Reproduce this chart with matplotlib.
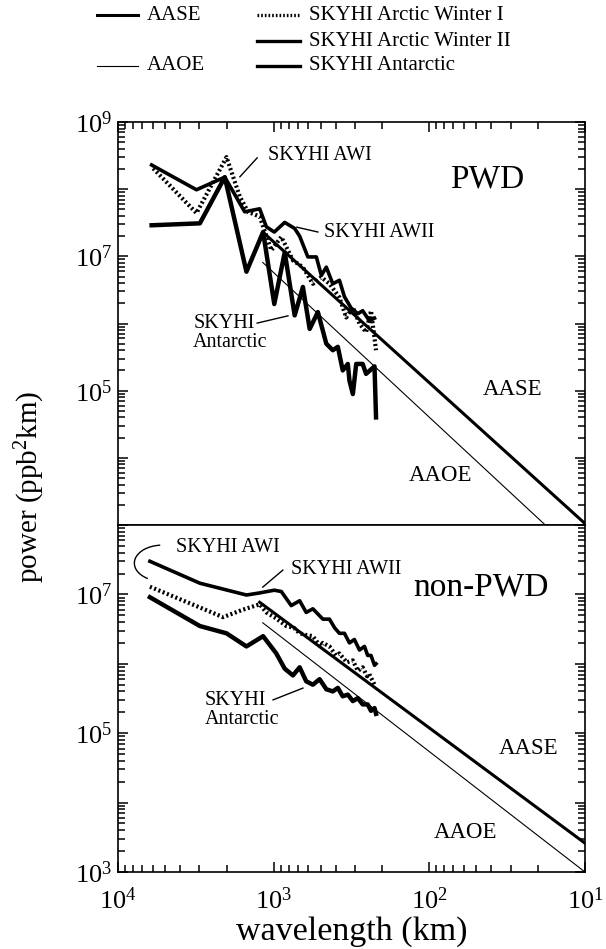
import numpy as np
import matplotlib
matplotlib.use('Agg')
import matplotlib.pyplot as plt
from matplotlib.lines import Line2D
from matplotlib.patches import Arc
from matplotlib.ticker import FixedLocator, FuncFormatter, NullFormatter

plt.rcParams['font.family'] = ['Liberation Serif', 'DejaVu Serif']
plt.rcParams['mathtext.fontset'] = 'custom'
plt.rcParams['mathtext.rm'] = 'Liberation Serif'
plt.rcParams['mathtext.it'] = 'Liberation Serif:italic'
plt.rcParams['mathtext.bf'] = 'Liberation Serif:bold'

# ---- PWD panel (wavelength km, power ppb^2 km) ----
pwd_aase_wl = [1175, 10]
pwd_aase_p = [2.3e7, 1.05e3]
pwd_aaoe_wl = [1175, 18]
pwd_aaoe_p = [8.1e6, 1.0e3]

pwd_awi_wl = [5943, 3133, 2009, 1652, 1462, 1230, 1035, 893, 752, 649,
              560, 494, 438, 378, 342, 310, 281, 255, 237, 220]
pwd_awi_p = [2.04e8, 4.4e7, 3.0e8, 7.8e7, 4.6e7, 3.9e7, 1.23e7, 1.95e7, 8.7e6, 6.9e6,
             3.9e6, 4.9e6, 3.9e6, 2.45e6, 1.23e6, 1.74e6, 1.0e6, 7.4e5, 1.55e6, 4.0e5]

pwd_awii_wl = [6081, 3133, 2061, 1535, 1230, 1114, 991, 849, 733, 681, 603,
               532, 494, 459, 417, 378, 351, 318, 288, 268, 243, 225]
pwd_awii_p = [2.29e8, 9.8e7, 1.51e8, 4.6e7, 5.1e7, 2.75e7, 2.3e7, 3.2e7, 2.6e7, 2.0e7, 9.8e6,
              9.8e6, 5.2e6, 6.9e6, 3.9e6, 4.4e6, 2.5e6, 1.7e6, 1.4e6, 1.55e6, 1.1e6, 1.2e6]

pwd_ant_wl = [6081, 2979, 2061, 1496, 1169, 991, 849, 733, 649, 587, 520, 459,
              417, 387, 360, 334, 326, 310, 295, 268, 255, 225, 220]
pwd_ant_p = [2.9e7, 3.1e7, 1.51e8, 5.9e6, 2.3e7, 1.95e6, 1.15e7, 1.32e6, 3.5e6, 8.3e5, 1.48e6, 5.0e5,
             4.0e5, 4.5e5, 2.0e5, 2.5e5, 1.41e5, 8.9e4, 2.5e5, 2.5e5, 1.78e5, 2.3e5, 4.0e4]

# ---- non-PWD panel ----
npwd_aase_wl = [1230, 10]
npwd_aase_p = [7.7e6, 2.6e3]
npwd_aaoe_wl = [1175, 10]
npwd_aaoe_p = [3.9e6, 1.0e3]

npwd_awi_wl = [6237, 2113, 1585, 1230, 1114, 962, 830, 741, 681, 617, 560, 501,
               483, 438, 398, 378, 339, 310, 288, 268, 251, 243, 225]
npwd_awi_p = [1.29e7, 4.7e6, 6.0e6, 7.2e6, 5.5e6, 4.5e6, 3.5e6, 3.3e6, 2.75e6, 2.6e6, 2.5e6, 1.78e6,
              2.0e6, 1.78e6, 1.32e6, 1.41e6, 1.05e6, 1.12e6, 7.9e5, 8.9e5, 6.6e5, 7.1e5, 5.0e5]

npwd_awii_wl = [6237, 2979, 1496, 1230, 991, 893, 771, 681, 618, 560, 483, 438,
                406, 378, 351, 326, 303, 281, 261, 249, 237, 225, 220]
npwd_awii_p = [3.0e7, 1.45e7, 9.8e6, 1.05e7, 1.15e7, 1.1e7, 6.9e6, 8.1e6, 5.5e6, 6.2e6, 4.4e6, 4.4e6,
               3.3e6, 2.75e6, 2.75e6, 2.0e6, 2.24e6, 1.58e6, 1.78e6, 1.32e6, 1.32e6, 9.5e5, 1.0e6]

npwd_ant_wl = [6237, 2979, 2009, 1496, 1169, 962, 849, 752, 681, 618, 560, 507,
               459, 417, 387, 360, 334, 310, 288, 268, 249, 237, 225, 220]
npwd_ant_p = [9.1e6, 3.5e6, 2.75e6, 1.78e6, 2.5e6, 1.41e6, 8.5e5, 6.8e5, 8.9e5, 5.6e5, 5.0e5, 6.0e5,
              4.3e5, 4.0e5, 4.5e5, 3.4e5, 3.6e5, 2.9e5, 3.2e5, 2.6e5, 2.6e5, 2.1e5, 2.3e5, 1.9e5]

STY = {
    'AASE': dict(color='k', lw=2.2),
    'AAOE': dict(color='k', lw=0.8),
    'AWI': dict(color='k', lw=3.0, ls=(0, (0.5, 0.6)), dash_capstyle='butt'),
    'AWII': dict(color='k', lw=2.6),
    'ANT': dict(color='k', lw=3.2),
}

W, H = 606, 949
L, R = 118, 585
TOP, MID, BOT = 122, 525, 872

fig = plt.figure(figsize=(W / 100, H / 100), dpi=100)
ax1 = fig.add_axes([L / W, 1 - MID / H, (R - L) / W, (MID - TOP) / H])
ax2 = fig.add_axes([L / W, 1 - BOT / H, (R - L) / W, (BOT - MID) / H])


def decades(lo, hi):
    return [10.0 ** e for e in range(lo, hi + 1)]


def minors(lo, hi):
    return [m * 10.0 ** e for e in range(lo, hi) for m in range(2, 10)]


def make_ylab(skip):
    def f(v, pos):
        e = int(round(np.log10(v)))
        if e % 2 == 1 and e not in skip:
            return r'$\mathdefault{10^{%d}}$' % e
        return ''
    return f


def dec_lab(v, pos):
    e = int(round(np.log10(v)))
    return r'$\mathdefault{10^{%d}}$' % e


for ax, (ylo, yhi), skip in ((ax1, (3, 9), (3,)), (ax2, (3, 8), ())):
    ax.set_xscale('log'); ax.set_yscale('log')
    ax.set_xlim(1e4, 1e1); ax.set_ylim(10.0 ** ylo, 10.0 ** yhi)
    ax.xaxis.set_major_locator(FixedLocator(decades(1, 4)))
    ax.xaxis.set_minor_locator(FixedLocator(minors(1, 4)))
    ax.yaxis.set_major_locator(FixedLocator(decades(ylo, yhi)))
    ax.yaxis.set_minor_locator(FixedLocator(minors(ylo, yhi)))
    ax.yaxis.set_major_formatter(FuncFormatter(make_ylab(skip)))
    ax.yaxis.set_minor_formatter(NullFormatter())
    ax.xaxis.set_minor_formatter(NullFormatter())
    ax.tick_params(which='both', direction='in', left=True, right=True, labelsize=19, pad=4)
    ax.tick_params(which='major', length=7.5, width=1.1)
    ax.tick_params(which='minor', length=5, width=1.1)
    for s in ax.spines.values():
        s.set_linewidth(1.2)

ax1.tick_params(axis='x', which='both', top=True, bottom=False, labelbottom=False)
ax2.tick_params(axis='x', which='both', top=False, bottom=True, pad=11)
ax2.xaxis.set_major_formatter(FuncFormatter(dec_lab))

# PWD
ax1.plot(pwd_aase_wl, pwd_aase_p, **STY['AASE'])
ax1.plot(pwd_aaoe_wl, pwd_aaoe_p, **STY['AAOE'])
ax1.plot(pwd_ant_wl, pwd_ant_p, **STY['ANT'])
ax1.plot(pwd_awii_wl, pwd_awii_p, **STY['AWII'])
ax1.plot(pwd_awi_wl, pwd_awi_p, **STY['AWI'])

# non-PWD
ax2.plot(npwd_aase_wl, npwd_aase_p, **STY['AASE'])
ax2.plot(npwd_aaoe_wl, npwd_aaoe_p, **STY['AAOE'])
ax2.plot(npwd_ant_wl, npwd_ant_p, **STY['ANT'])
ax2.plot(npwd_awii_wl, npwd_awii_p, **STY['AWII'])
ax2.plot(npwd_awi_wl, npwd_awi_p, **STY['AWI'])

# annotations (axes fractions)
T1 = ax1.transAxes
ax1.text(0.790, 0.859, 'PWD', transform=T1, fontsize=24, ha='center', va='center')
ax1.text(0.846, 0.335, 'AASE', transform=T1, fontsize=16.5, ha='center', va='center')
ax1.text(0.690, 0.124, 'AAOE', transform=T1, fontsize=16.5, ha='center', va='center')
ax1.text(0.433, 0.918, 'SKYHI AWI', transform=T1, fontsize=14.5, ha='center', va='center')
ax1.plot([0.298, 0.261], [0.911, 0.864], transform=T1, color='k', lw=1)
ax1.text(0.559, 0.727, 'SKYHI AWII', transform=T1, fontsize=14.5, ha='center', va='center')
ax1.plot([0.428, 0.383], [0.727, 0.739], transform=T1, color='k', lw=1)
ax1.text(0.161, 0.476, 'SKYHI\nAntarctic', transform=T1, fontsize=14.5, ha='left', va='center',
         linespacing=1.0)
ax1.plot([0.298, 0.364], [0.501, 0.519], transform=T1, color='k', lw=1)

T2 = ax2.transAxes
ax2.text(0.777, 0.821, 'non-PWD', transform=T2, fontsize=24, ha='center', va='center')
ax2.text(0.880, 0.357, 'AASE', transform=T2, fontsize=16.5, ha='center', va='center')
ax2.text(0.745, 0.115, 'AAOE', transform=T2, fontsize=16.5, ha='center', va='center')
ax2.text(0.236, 0.934, 'SKYHI AWI', transform=T2, fontsize=14.5, ha='center', va='center')
ax2.add_patch(Arc((0.095, 0.890), 0.12, 0.104, theta1=95, theta2=235, transform=T2,
                  color='k', lw=1))
ax2.text(0.488, 0.873, 'SKYHI AWII', transform=T2, fontsize=14.5, ha='center', va='center')
ax2.plot([0.353, 0.310], [0.870, 0.821], transform=T2, color='k', lw=1)
ax2.text(0.186, 0.467, 'SKYHI\nAntarctic', transform=T2, fontsize=14.5, ha='left', va='center',
         linespacing=1.0)
ax2.plot([0.332, 0.396], [0.496, 0.530], transform=T2, color='k', lw=1)

ax2.set_xlabel('wavelength (km)', fontsize=24.5, labelpad=2)
fig.text(30 / W, 1 - 487 / H, r'power (ppb$^{2}$km)', rotation=90, fontsize=21,
         ha='center', va='center')

# legend drawn by hand
def leg(x0, x1, y, key, label):
    fig.add_artist(Line2D([x0 / W, x1 / W], [1 - y / H, 1 - y / H], transform=fig.transFigure,
                          **{k: v for k, v in STY[key].items() if k != 'lw'},
                          lw=min(STY[key]['lw'], 2.4)))
    fig.text((x1 + 9) / W, 1 - y / H, label, fontsize=15, ha='left', va='center')

leg(97, 138, 15, 'AASE', 'AASE')
leg(97, 138, 66, 'AAOE', 'AAOE')
leg(257, 300, 15, 'AWI', 'SKYHI Arctic Winter I')
leg(257, 300, 41, 'AWII', 'SKYHI Arctic Winter II')
leg(257, 300, 66, 'ANT', 'SKYHI Antarctic')

fig.savefig('out.png', dpi=100, facecolor='white')
